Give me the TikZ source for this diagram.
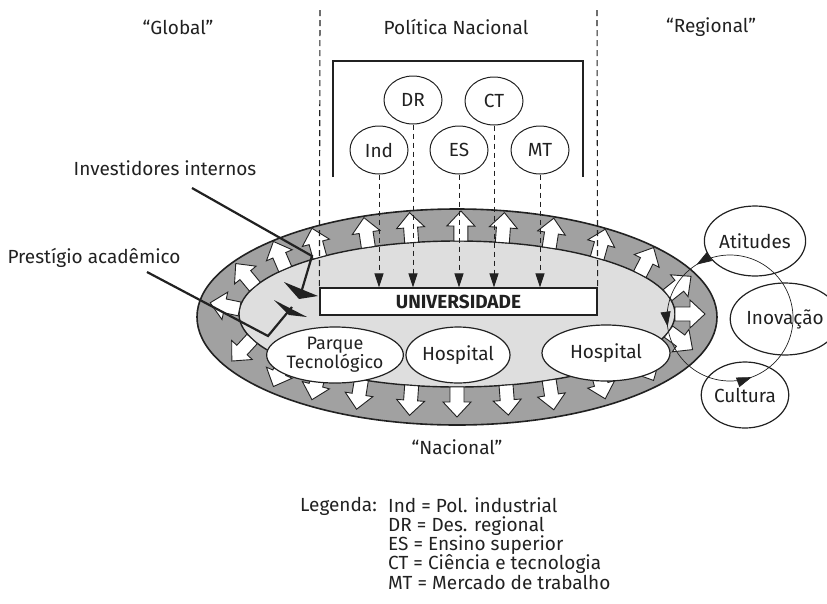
\documentclass[tikz,border=0pt]{standalone}
\usepackage{fontspec}
\setmainfont{Fira Sans}
\usetikzlibrary{shapes.geometric,arrows.meta,decorations.markings}
\definecolor{ink}{gray}{0.13}
\definecolor{ringgray}{gray}{0.63}
\definecolor{coregray}{gray}{0.87}
\newcommand{\labelfont}{\fontsize{19}{21}\selectfont}
\newcommand{\keyfont}{\fontsize{19}{19.3}\selectfont}
\begin{document}
\begin{tikzpicture}[x=1pt,y=1pt,
  every node/.style={text=ink},
  lbl/.style={font=\labelfont, inner sep=0pt},
  pol/.style={ellipse, draw=ink, line width=1pt, minimum width=58pt, minimum height=48pt, inner sep=0pt, font=\labelfont},
  site/.style={ellipse, draw=ink, fill=white, line width=1.2pt, minimum height=56pt, inner sep=0pt, font=\labelfont},
  theme/.style={ellipse, draw=ink, line width=1.2pt, inner sep=0pt, font=\labelfont},
  outflow/.style={fill=white, draw=ink, line width=0.9pt, line join=miter},
  guide/.style={draw=ink, line width=1.1pt, dash pattern=on 6pt off 4pt},
  feed/.style={draw=ink, line width=1pt, dash pattern=on 5pt off 4pt, -{Triangle[length=14pt,width=9pt]}},
  lead/.style={draw=ink, line width=2.2pt, line join=miter},
  cycleline/.style={draw=ink, line width=0.7pt},
  keytext/.style={inner sep=0pt, align=left, font=\keyfont}
]
\useasboundingbox (0,0) rectangle (827,-603);

% headings
\node[lbl] (global) at (178,-27) {“Global”};
\node[lbl] (nacpol) at (456,-27) {Política Nacional};
\node[lbl] (regional) at (711,-27) {“Regional”};
\node[lbl] (nacional) at (457,-447) {“Nacional”};

% the ring and the core
\fill[ringgray] (457,-317) ellipse [x radius=260, y radius=108];
\draw[ink, line width=1.6pt] (457,-317) ellipse [x radius=260, y radius=108];
\filldraw[fill=coregray, draw=ink, line width=1.4pt] (457,-314) ellipse [x radius=218, y radius=73];

% outward flows across the ring
\foreach \t in {0,15,33,50,65,78,89,102,114,129,142,158,176,200,218,231,244,258,270,283,295,310,327,346}{
  \pgfmathsetmacro\px{457+218*cos(\t)}
  \pgfmathsetmacro\py{-314+73*sin(\t)}
  \pgfmathsetmacro\ang{atan2(218*sin(\t),73*cos(\t))}
  \draw[outflow, shift={(\px,\py)}, rotate=\ang]
    (0,-7) -- (15,-7) -- (15,-14) -- (30,0) -- (15,14) -- (15,7) -- (0,7) -- cycle;
}

% national policy frame
\draw[ink, line width=1.2pt] (333,-177) |- (583,-61) -- (583,-177);
\node[pol] (dr) at (413,-100) {DR};
\node[pol] (ct) at (494,-101) {CT};
\node[pol] (ind) at (379,-150) {Ind};
\node[pol] (es) at (459,-150) {ES};
\node[pol] (mt) at (540,-150) {MT};

% university
\node[draw=ink, fill=white, line width=1.2pt, minimum width=277pt, minimum height=27pt, inner sep=0pt,
      font=\labelfont\bfseries] (univ) at (458.5,-301.5) {UNIVERSIDADE};

% boundaries of national policy
\coordinate (gl) at (320,-10);
\coordinate (gr) at (597,-10);
\draw[guide] (gl) -- (univ.north west);
\draw[guide] (gr) -- (univ.north east);

% policy influences
\foreach \p in {ind,dr,es,ct,mt}{
  \draw[feed] (\p.south) -- (\p.south |- univ.north);
}

% institutions around the university
\node[site, minimum width=126pt, align=center, font=\fontsize{18}{20}\selectfont] (parque) at (335,-355) {Parque\\[-1pt]Tecnológico};
\node[site, minimum width=104pt] (hosp1) at (458,-355) {Hospital};
\node[site, minimum width=128pt] (hosp2) at (606,-353) {Hospital};

% left side pressures
\node[lbl] (inv) at (165,-168) {Investidores internos};
\node[lbl] (prest) at (94,-258) {Prestígio acadêmico};
\coordinate (inv-a) at (192,-188);
\coordinate (inv-b) at (312,-256);
\coordinate (inv-c) at (301,-293);
\coordinate (pre-a) at (147,-272);
\coordinate (pre-b) at (268,-336);
\coordinate (pre-c) at (292,-307);
\draw[lead] (inv-a) -- (inv-b) -- (inv-c);
\fill[ink] (284,-282) -- (318,-296) -- (299,-299) -- cycle;
\draw[lead] (pre-a) -- (pre-b) -- (pre-c);
\fill[ink] (274,-300) -- (307,-317) -- (289,-315) -- cycle;

% regional themes
\node[theme, minimum width=86pt, minimum height=70pt] (atit) at (755,-241) {Atitudes};
\node[theme, minimum width=82pt, minimum height=72pt] (inov) at (785,-319) {Inovação};
\node[theme, minimum width=84pt, minimum height=66pt] (cult) at (745,-395) {Cultura};

% regional cycle
\coordinate (cyc) at (730,-318);
\draw[cycleline, postaction={decorate}, decoration={markings,
    mark=at position 0.339 with {\arrow[ink]{Triangle[length=15pt,width=10pt]}},
    mark=at position 0.522 with {\arrow[ink]{Triangle[length=15pt,width=10pt]}},
    mark=at position 0.806 with {\arrow[ink]{Triangle[length=15pt,width=10pt]}}}]
  (cyc) circle [radius=63];

% legend
\node[keytext, anchor=north west] (leg) at (388,-497)
  {Ind = Pol. industrial\\DR = Des. regional\\ES = Ensino superior\\CT = Ciência e tecnologia\\MT = Mercado de trabalho};
\node[keytext, anchor=north east] (legh) at (377,-497) {Legenda:};
\end{tikzpicture}
\end{document}
